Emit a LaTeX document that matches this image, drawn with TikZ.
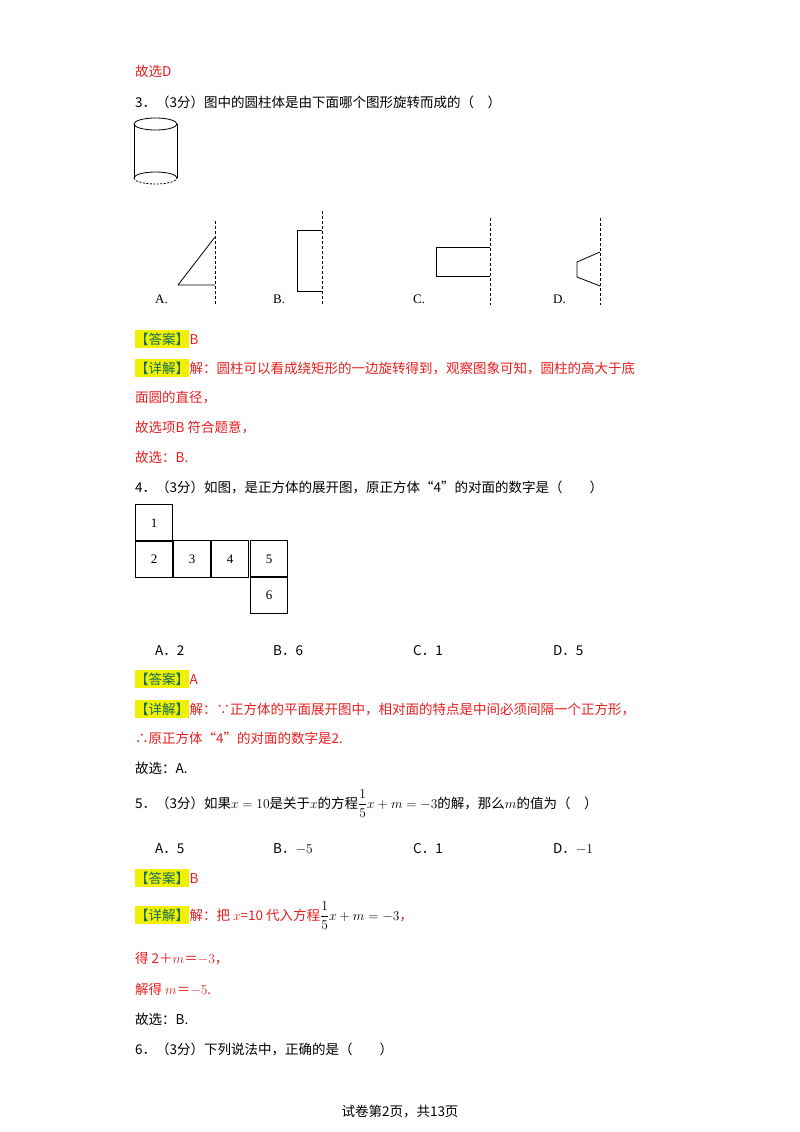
\RequirePackage{fix-cm}
\documentclass[tikz,border=0pt]{standalone}
\usepackage{amsmath}
\usepackage{fontspec}
\setmainfont{Noto Sans CJK SC}
\newfontfamily\ser{Liberation Serif}
\definecolor{ans}{RGB}{230,30,30}
\definecolor{lab}{RGB}{20,110,90}
\definecolor{hl}{RGB}{240,240,0}
\tikzset{
 txt/.style={anchor=base west,inner sep=0pt,font=\fontsize{13.5}{15}\selectfont},
 red/.style={txt,text=ans},
 tag/.style={txt,fill=hl,text=lab,inner ysep=3pt},
 fig/.style={line width=0.8pt},
 axis/.style={line width=0.7pt,dashed,dash pattern=on 3pt off 2pt},
 cell/.style={draw,line width=0.8pt,minimum size=37.2pt,inner sep=0pt,font=\ser\fontsize{13}{15}\selectfont}
}
\begin{document}
\begin{tikzpicture}[x=1pt,y=-1pt]
\useasboundingbox (0,0) rectangle (800,1132);
\node[red] (t0) at (135,77) {故选D};
\node[txt] (q3) at (135,107) {3．（3分）图中的圆柱体是由下面哪个图形旋转而成的（　）};
% cylinder
\draw[fig] (155.5,124) ellipse (21.5 and 6);
\draw[fig] (134,124) -- (134,178) (177,124) -- (177,178);
\draw[fig] (134,178) arc (180:360:21.5 and 6);
\draw[fig,dashed,dash pattern=on 2pt off 1.5pt] (134,178) arc (180:0:21.5 and 6);
% A
\draw[fig] (178,285) -- (215,237) (178,285) -- (215,285);
\draw[axis] (215,221) -- (215,305);
\node[txt,font=\ser\fontsize{13}{15}\selectfont] (la) at (155,303) {A.};
% B
\draw[fig] (322,230) -- (297,230) -- (297,291) -- (322,291);
\draw[axis] (322,211) -- (322,305);
\node[txt,font=\ser\fontsize{13}{15}\selectfont] (lb) at (273,303) {B.};
% C
\draw[fig] (490,247) -- (436,247) -- (436,276) -- (490,276);
\draw[axis] (490,218) -- (490,305);
\node[txt,font=\ser\fontsize{13}{15}\selectfont] (lc) at (413,303) {C.};
% D
\draw[fig] (600,252) -- (577,262) -- (577,277) -- (600,286);
\draw[axis] (600,218) -- (600,305);
\node[txt,font=\ser\fontsize{13}{15}\selectfont] (ld) at (553,303) {D.};
% answer 3
\node[tag] (a3) at (135,344) {【答案】};
\node[red,anchor=base west] (a3b) at (a3.base east) {B};
\node[tag] (d3) at (135,373) {【详解】};
\node[red] (d3b) at (d3.base east) {解：圆柱可以看成绕矩形的一边旋转得到，观察图象可知，圆柱的高大于底};
\node[red] (d3c) at (135,402) {面圆的直径，};
\node[red] (d3d) at (135,432) {故选项B 符合题意，};
\node[red] (d3e) at (135,462) {故选：B.};
% question 4
\node[txt] (q4) at (135,492) {4．（3分）如图，是正方体的展开图，原正方体“4”的对面的数字是（　　）};
\node[cell] (c1) at (154,523) {1};
\node[cell] (c2) at (154,559) {2};
\node[cell] (c3) at (192,559) {3};
\node[cell] (c4) at (230,559) {4};
\node[cell] (c5) at (269,559) {5};
\node[cell] (c6) at (269,595) {6};
\node[txt] (o4a) at (155,655) {A．2};
\node[txt] (o4b) at (273,655) {B．6};
\node[txt] (o4c) at (413,655) {C．1};
\node[txt] (o4d) at (553,655) {D．5};
\node[tag] (a4) at (135,684) {【答案】};
\node[red] (a4b) at (a4.base east) {A};
\node[tag] (d4) at (135,714) {【详解】};
\node[red] (d4b) at (d4.base east) {解：∵正方体的平面展开图中，相对面的特点是中间必须间隔一个正方形，};
\node[red] (d4c) at (135,743) {∴原正方体“4”的对面的数字是2.};
\node[txt] (d4d) at (135,773) {故选：A.};
% question 5
\node[txt] (q5) at (135,808) {5．（3分）如果$x=10$是关于$x$的方程$\dfrac{1}{5}x+m=-3$的解，那么$m$的值为（　）};
\node[txt] (o5a) at (155,853) {A．5};
\node[txt] (o5b) at (273,853) {B．$-5$};
\node[txt] (o5c) at (413,853) {C．1};
\node[txt] (o5d) at (553,853) {D．$-1$};
\node[tag] (a5) at (135,883) {【答案】};
\node[red] (a5b) at (a5.base east) {B};
\node[tag] (d5) at (135,920) {【详解】};
\node[red] (d5b) at (d5.base east) {解：把 $x$=10 代入方程\textcolor{black}{$\dfrac{1}{5}x+m=-3$}，};
\node[red] (d5c) at (135,963) {得 2＋$m$＝$-3$，};
\node[red] (d5d) at (135,994) {解得 $m$＝$-5$.};
\node[txt] (d5e) at (135,1024) {故选：B.};
\node[txt] (q6) at (135,1054) {6．（3分）下列说法中，正确的是（　　）};
\node[txt,anchor=base] (ft) at (400,1116) {试卷第2页，共13页};
\end{tikzpicture}
\end{document}
